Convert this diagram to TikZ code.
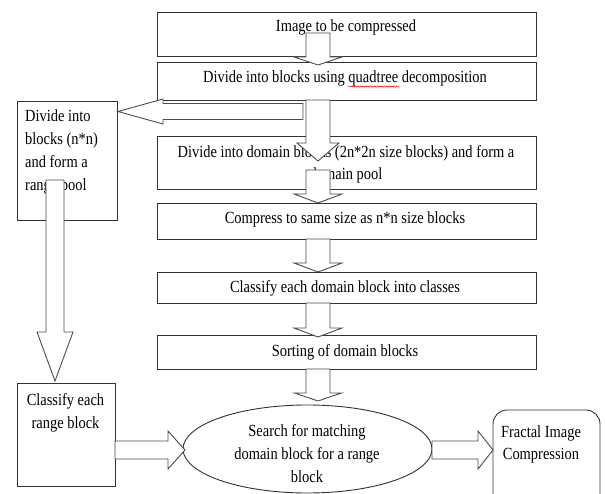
\documentclass[tikz,border=0pt]{standalone}
\usepackage{fontspec}
\setmainfont{Liberation Serif}[FakeStretch=0.85]
\usetikzlibrary{decorations.pathmorphing,shapes.geometric}
\newcommand\downblk[6]{\draw[blk] ({#1-#5},#2) -- ({#1+#5},#2) -- ({#1+#5},#3) -- ({#1+#6},#3) -- (#1,#4) -- ({#1-#6},#3) -- ({#1-#5},#3) -- cycle;}
\newcommand\sideblk[6]{\draw[blk] (#2,{#1-#5}) -- (#3,{#1-#5}) -- (#3,{#1-#6}) -- (#4,#1) -- (#3,{#1+#6}) -- (#3,{#1+#5}) -- (#2,{#1+#5}) -- cycle;}
\begin{document}
\begin{tikzpicture}[x=1pt,y=-1pt,
  box/.style={draw=black!80,line width=0.9pt,fill=white,rectangle,inner sep=0pt},
  lbl/.style={inner sep=0pt,anchor=base,font=\fontsize{17}{22}\selectfont},
  lbll/.style={lbl,anchor=base west},
  blk/.style={draw=black!70,line width=0.9pt,fill=white,line join=miter}]
\useasboundingbox (0,0) rectangle (605,494);
\clip (0,0) rectangle (605,494);
% main column boxes
\node[box,minimum width=379pt,minimum height=44pt] (b1) at (346.5,34) {};
\node[box,minimum width=379pt,minimum height=38pt] (b2) at (346.5,81) {};
\node[box,minimum width=379pt,minimum height=53pt] (b3) at (346.5,162.5) {};
\node[box,minimum width=379pt,minimum height=36pt] (b4) at (346.5,221) {};
\node[box,minimum width=379pt,minimum height=31pt] (b5) at (346.5,287.5) {};
\node[box,minimum width=379pt,minimum height=34pt] (b6) at (346.5,352) {};
% left boxes
\node[box,minimum width=100pt,minimum height=119pt] (l1) at (67,160.5) {};
\node[box,minimum width=98pt,minimum height=103pt] (l2) at (66,434.5) {};
% ellipse and rounded box
\node[draw=black!80,line width=0.9pt,fill=white,ellipse,inner sep=0pt,minimum width=249pt,minimum height=88pt] (e) at (307.5,449) {};
\node[box,rounded corners=14pt,minimum width=107pt,minimum height=100pt] (r) at (546.5,460) {};
% texts
\node[lbl] (t1) at (346,32) {Image to be compressed};
\node[lbl] (t2) at (345,83) {Divide into blocks using quadtree decomposition};
\draw[red,line width=0.5pt,decorate,decoration={snake,amplitude=0.6pt,segment length=2.4pt}] (348,86.5) -- (399,86.5);
\node[lbl] (t3a) at (346,157.5) {Divide into domain blocks (2n*2n size blocks) and form a};
\node[lbl] (t3b) at (346,180) {domain pool};
\node[lbl] (t4) at (345,224) {Compress to same size as n*n size blocks};
\node[lbl] (t5) at (345,293) {Classify each domain block into classes};
\node[lbl] (t6) at (345,356.5) {Sorting of domain blocks};
\node[lbll] (tl1a) at (25,122) {Divide into};
\node[lbll] (tl1b) at (25,145) {blocks (n*n)};
\node[lbll] (tl1c) at (25,168) {and form a};
\node[lbll] (tl1d) at (25,191) {range pool};
\node[lbl] (tl2a) at (65.5,405) {Classify each};
\node[lbl] (tl2b) at (65.5,428) {range block};
\node[lbl] (tea) at (307,436.7) {Search for matching};
\node[lbl] (teb) at (307,459.5) {domain block for a range};
\node[lbl] (tec) at (307,482) {block};
\node[lbl] (tra) at (541,437.3) {Fractal Image};
\node[lbl] (trb) at (541,459) {Compression};
% block arrows
\downblk{318}{33}{57}{65}{12}{24}
\sideblk{111.5}{303}{163}{118}{8}{12.5}
\downblk{318}{100}{143}{161}{12}{21}
\downblk{318}{170}{194}{203}{12}{24}
\downblk{318}{239}{263}{272}{12}{24}
\downblk{318}{303}{328}{337}{12}{24}
\downblk{318}{369}{393}{401}{12}{23.5}
\downblk{55}{180}{332}{381}{9}{18}
\sideblk{450}{115}{168}{185}{9}{19}
\sideblk{450}{432}{478}{493}{9}{19}
\end{tikzpicture}
\end{document}
